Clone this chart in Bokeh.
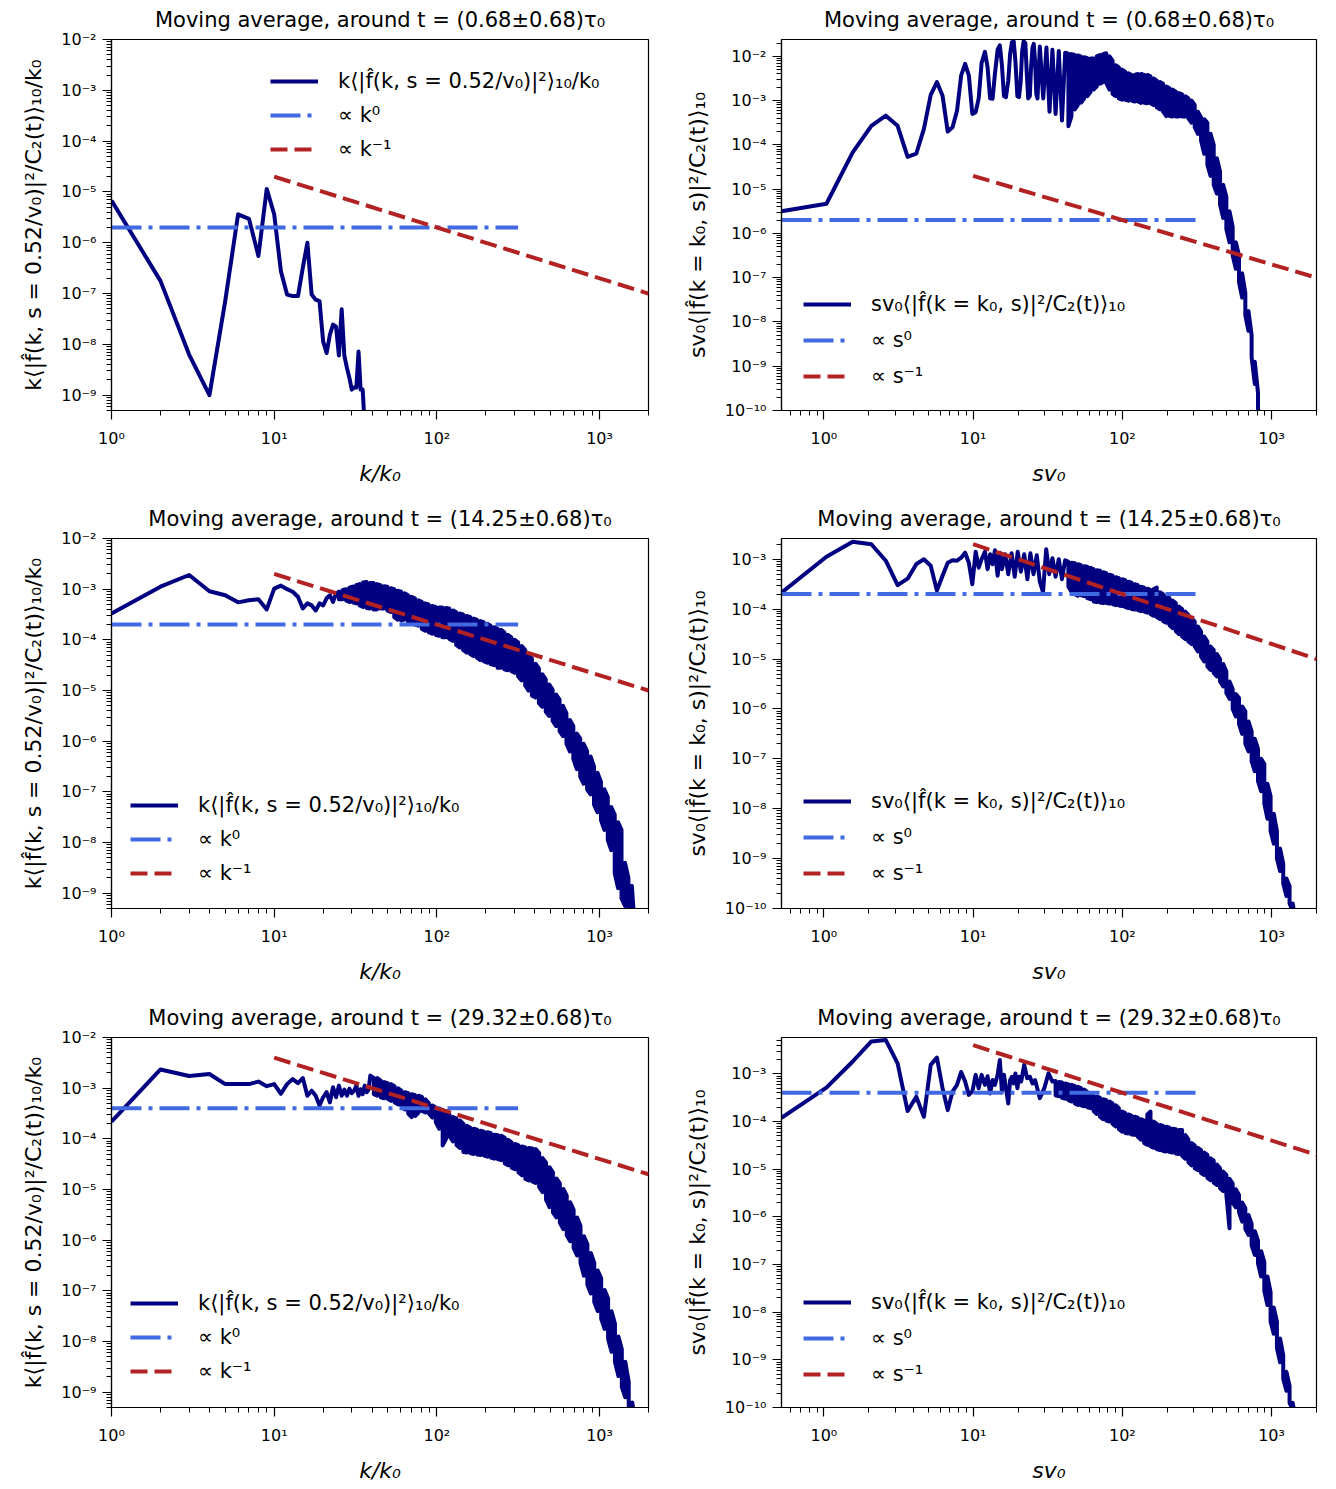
from bokeh.plotting import figure
from bokeh.models import Range1d, FixedTicker, CustomJSTickFormatter, Legend, LegendItem
from bokeh.layouts import gridplot
from bokeh.embed import file_html
from bokeh.resources import INLINE

FONT = "DejaVu Sans"
NAVY = "#000080"
ROYAL = "#4169E1"
FIREBRICK = "#B22222"

# ---------------------------------------------------------------- data
window_centres = ["0.68", "14.25", "29.32"]
window_half = "0.68"
guide_level = [2e-6, 2e-4, 4e-4]          # level of the flat guide per row
flat_guide_x_end = 316.0
slope_guide_x = [10.0, 2000.0]

left_x_range = (1.0, 2000.0)
right_x_range = (0.52, 2000.0)
left_y_ranges = [(5e-10, 1e-2), (5e-10, 1e-2), (5e-10, 1e-2)]
right_y_ranges = [(1e-10, 2.4e-2), (1e-10, 2.6e-3), (1e-10, 5.8e-3)]

# All curve values are log10 of the plotted quantity.
# "*_line" : single-valued stretch of the curve.
# "*_band_*" : where the curve oscillates fast, its local maximum (hi) and
#              minimum (lo) at each abscissa.

# ---- row 1, left : k/k0
k1_line = [1, 2, 3, 4, 5, 6, 7, 8, 9, 10, 11, 12, 13, 14, 15, 16, 17, 18,
           19, 20, 21, 22, 23, 24, 25, 26, 27, 28, 29, 30, 31, 32, 33, 34, 35, 36]
f1_line = [-5.17, -6.75, -8.20, -9.00, -7.15, -5.44, -5.53, -6.26, -4.94, -5.44,
           -6.56, -7.02, -7.05, -7.05, -6.49, -6.00, -7.02, -7.12, -7.15, -7.94,
           -8.17, -7.81, -7.61, -7.65, -8.22, -7.31, -8.22, -8.46, -8.66, -8.89,
           -8.85, -8.85, -8.14, -8.89, -8.89, -9.60]
k1_band = []
f1_band_hi = []
f1_band_lo = []

# ---- row 1, right : s v0
s1_line = [0.52, 1.04, 1.56, 2.08, 2.6, 3.12, 3.64, 4.16, 4.68, 5.2, 5.72, 6.24, 6.76,
           7.28, 7.8, 8.32, 8.84, 9.36, 9.88, 10.4, 10.9, 11.4, 12.0, 12.5, 13.0, 13.5,
           14.0, 14.6, 15.1, 15.6, 16.1, 16.6, 17.2, 17.7, 18.2, 18.7, 19.2, 19.8, 20.3,
           20.8, 21.3, 21.8, 22.4, 22.9, 23.4, 24.0, 24.4, 25.0, 25.5, 26.0, 26.5, 27.0,
           28, 29.5, 31, 32.5, 34, 35.7, 37.5, 39.4, 41.4]
g1_line = [-5.50, -5.33, -4.17, -3.57, -3.34, -3.57, -4.27, -4.20, -3.64, -2.87,
           -2.58, -2.89, -3.70, -3.60, -3.23, -2.43, -2.17, -2.43, -3.30, -3.26,
           -2.95, -2.15, -1.90, -2.25, -2.95, -2.96, -2.40, -1.85, -1.75, -2.20,
           -2.90, -2.92, -2.55, -1.95, -1.68, -1.66, -2.10, -2.90, -2.92, -2.60,
           -1.90, -1.66, -1.70, -2.40, -2.95, -2.90, -2.30, -1.80, -1.72, -2.10,
           -2.85, -2.95,
           -1.78, -2.95, -1.80, -3.25, -1.85, -3.30, -1.88, -3.45, -1.92]
s1_band = [43.5, 45.6, 48, 50.3, 52.8,
           55.5, 58.3, 61.2, 64.2, 67.4, 70.8, 74.3, 78, 82, 86, 90.3, 94.8, 99.6,
           104.6, 109.8, 115.3, 121, 127, 133.4, 140, 147, 154.4, 162, 170, 178.7,
           187.6, 197, 206.9, 217, 228, 239.4, 251.4, 264, 277, 291, 305.5, 320.8,
           336.8, 353.7, 371.4, 390, 409.5, 430, 451.5, 474, 497.7, 522.6, 548.7, 576,
           605, 635, 667, 700, 735, 772, 811, 830]
g1_band_hi = [-1.94, -1.95, -1.97, -1.98, -2.00, -2.02, -2.04, -2.05, -2.05, -2.00,
              -1.97, -1.95, -1.93, -2.00, -2.10, -2.20, -2.25, -2.30, -2.35, -2.38,
              -2.42, -2.42, -2.40, -2.40, -2.42, -2.42, -2.45, -2.50, -2.55, -2.58,
              -2.62, -2.68, -2.72, -2.75, -2.80, -2.83, -2.86, -2.90, -2.95, -3.00,
              -3.10, -3.25, -3.38, -3.42, -3.50, -3.75, -4.00, -4.30, -4.60, -4.90,
              -5.18, -5.50, -5.85, -6.20, -6.50, -6.90, -7.35, -7.75, -8.30, -8.90,
              -9.60, -10.20]
g1_band_lo = [-3.58, -3.35, -3.20, -3.10, -3.05, -2.95, -2.90, -2.80, -2.75, -2.68,
              -2.62, -2.58, -2.60, -2.75, -2.85, -2.90, -2.95, -2.98, -2.98, -3.00,
              -3.00, -3.02, -3.02, -3.05, -3.05, -3.06, -3.06, -3.10, -3.15, -3.20,
              -3.25, -3.35, -3.35, -3.36, -3.36, -3.36, -3.36, -3.36, -3.40, -3.50,
              -3.60, -3.75, -3.90, -4.20, -4.45, -4.70, -4.90, -5.10, -5.35, -5.65,
              -5.90, -6.20, -6.50, -6.80, -7.10, -7.45, -7.85, -8.20, -8.80, -9.40,
              -9.95, -10.20]

# ---- row 2, left
k2_line = [1, 2, 3, 4, 5, 6, 7, 8, 9, 10, 11, 12, 13, 14, 15, 16, 17, 18, 19, 20, 21,
           22, 23, 24]
f2_line = [-3.48, -2.95, -2.72, -3.04, -3.12, -3.26, -3.22, -3.20, -3.40, -2.99,
           -2.93, -3.00, -3.05, -3.15, -3.38, -3.28, -3.32, -3.42, -3.28, -3.32,
           -3.18, -3.12, -3.25, -3.09]
k2_band = [25, 26.3, 27.6, 29, 30.4, 31.9, 33.5, 35.2, 37, 38.8, 40.8, 42.8, 45, 47.2,
           49.6, 52, 54.7, 57.4, 60.3, 63.3, 66.5, 69.8, 73.3, 77, 80.8, 84.8, 89, 93.5,
           98.2, 103, 108, 113.5, 119, 125, 131.5, 138, 145, 152, 160, 168, 176, 185,
           194, 204, 214, 225, 236, 248, 260, 273, 287, 301, 316, 332, 349, 366, 384,
           404, 424, 445, 467, 490, 515, 541, 568, 596, 626, 657, 690, 725, 761, 799,
           839, 881, 925, 971, 1020, 1071, 1124, 1180, 1240, 1300, 1365, 1435, 1505,
           1580, 1640]
f2_band_hi = [-3.05, -3.02, -3.00, -2.97, -2.95, -2.92, -2.90, -2.87, -2.86, -2.88,
              -2.88, -2.90, -2.92, -2.94, -2.95, -2.98, -3.00, -3.03, -3.05, -3.08,
              -3.12, -3.15, -3.18, -3.22, -3.25, -3.28, -3.30, -3.33, -3.35, -3.36,
              -3.36, -3.37, -3.38, -3.42, -3.45, -3.48, -3.50, -3.53, -3.55, -3.58,
              -3.60, -3.63, -3.65, -3.68, -3.72, -3.75, -3.78, -3.80, -3.85, -3.90,
              -3.95, -4.00, -4.05, -4.12, -4.20, -4.28, -4.37, -4.47, -4.57, -4.68,
              -4.78, -4.88, -4.98, -5.08, -5.18, -5.30, -5.45, -5.58, -5.70, -5.85,
              -5.95, -6.05, -6.20, -6.30, -6.50, -6.62, -6.80, -6.95, -7.10, -7.30,
              -7.45, -7.60, -7.75, -8.40, -8.70, -8.85, -9.60]
f2_band_lo = [-3.20, -3.20, -3.22, -3.25, -3.26, -3.28, -3.32, -3.35, -3.37, -3.38,
              -3.40, -3.40, -3.38, -3.38, -3.42, -3.45, -3.55, -3.60, -3.62, -3.60,
              -3.65, -3.66, -3.70, -3.72, -3.78, -3.82, -3.85, -3.88, -3.90, -3.92,
              -3.95, -3.95, -3.98, -4.02, -4.10, -4.15, -4.20, -4.25, -4.28, -4.32,
              -4.35, -4.40, -4.42, -4.45, -4.48, -4.50, -4.55, -4.55, -4.58, -4.60,
              -4.62, -4.65, -4.72, -4.80, -4.90, -5.00, -5.10, -5.14, -5.25, -5.32,
              -5.42, -5.50, -5.60, -5.70, -5.80, -5.90, -6.05, -6.20, -6.35, -6.55,
              -6.70, -6.84, -6.95, -7.05, -7.25, -7.40, -7.55, -7.75, -7.95, -8.15,
              -8.60, -8.90, -9.10, -9.25, -9.30, -9.40, -9.60]

# ---- row 2, right
s2_line = [0.52, 1.04, 1.56, 2.08, 2.6, 3.12, 3.64, 4.16, 4.68, 5.2, 5.72, 6.24, 6.76,
           7.28, 7.8, 8.32, 8.84, 9.36, 9.88, 10.4, 10.9, 11.4, 12.0, 12.5, 13.0, 13.5,
           14.0, 14.6, 15.1, 15.6,
           16.4, 17.2, 18.1, 19, 19.9, 20.9, 22, 23.1, 24.2, 25.4, 26.7, 28, 29.4, 30.9,
           32.4, 34, 35.7, 37.5, 39.4, 41.4]
g2_line = [-3.67, -2.95, -2.65, -2.70, -3.03, -3.52, -3.39, -3.10, -3.00, -3.13,
           -3.63, -3.33, -3.07, -3.02, -3.03, -2.97, -2.87, -3.07, -3.50, -2.85,
           -3.17, -3.00, -2.85, -3.20, -2.90, -3.10, -2.82, -3.33, -2.87, -3.20,
           -2.90, -3.30, -2.88, -3.35, -2.85, -3.25, -2.90, -3.40, -2.88, -3.30,
           -2.92, -3.45, -3.66, -2.80, -3.30, -2.98, -3.35, -3.00, -3.40, -3.02]
s2_band = [43.5, 45.6, 48, 50.3, 52.8, 55.5, 58.3,
           61.2, 64.2, 67.4, 70.8, 74.3, 78, 82, 86, 90.3, 94.8, 99.6, 104.6, 109.8,
           115.3, 121, 127, 133.4, 140, 147, 154.4, 162, 170, 178.7, 187.6, 197, 206.9,
           217, 228, 239.4, 251.4, 264, 277, 291, 305.5, 320.8, 336.8, 353.7, 371.4,
           390, 409.5, 430, 451.5, 474, 497.7, 522.6, 548.7, 576, 605, 635, 667, 700,
           735, 772, 811, 851, 894, 938, 985, 1034, 1086, 1140, 1197, 1257, 1320, 1386,
           1440]
g2_band_hi = [-3.05, -3.07, -3.08, -3.10, -3.12, -3.14, -3.15, -3.17, -3.20, -3.22,
              -3.23, -3.26, -3.28, -3.31, -3.33, -3.36, -3.38, -3.40, -3.42, -3.45,
              -3.47, -3.50, -3.52, -3.55, -3.57, -3.59, -3.62, -3.60, -3.57, -3.66,
              -3.70, -3.73, -3.78, -3.83, -3.88, -3.95, -4.00, -4.05, -4.12, -4.18,
              -4.25, -4.35, -4.45, -4.55, -4.65, -4.75, -4.82, -4.90, -5.00, -5.10,
              -5.25, -5.45, -5.60, -5.70, -5.78, -5.95, -6.05, -6.25, -6.45, -6.60,
              -6.80, -7.00, -7.10, -7.50, -7.75, -8.10, -8.45, -8.80, -9.10, -9.40,
              -9.55, -9.90, -10.20]
g2_band_lo = [-3.55, -3.65, -3.70, -3.73, -3.72, -3.74, -3.78, -3.80, -3.85, -3.86,
              -3.87, -3.88, -3.88, -3.89, -3.90, -3.92, -3.93, -3.94, -3.96, -3.98,
              -4.00, -4.01, -4.02, -4.04, -4.05, -4.07, -4.10, -4.13, -4.16, -4.20,
              -4.24, -4.27, -4.32, -4.38, -4.44, -4.50, -4.55, -4.60, -4.65, -4.70,
              -4.75, -4.85, -4.95, -5.05, -5.15, -5.22, -5.28, -5.35, -5.45, -5.55,
              -5.68, -5.80, -6.00, -6.15, -6.30, -6.50, -6.70, -6.85, -7.05, -7.25,
              -7.45, -7.65, -7.90, -8.20, -8.45, -8.70, -9.00, -9.25, -9.50, -9.75,
              -9.90, -10.05, -10.20]

# ---- row 3, left
k3_line = [1, 2, 3, 4, 5, 6, 7, 8, 9, 10, 11, 12, 13, 14, 15, 16, 17, 18, 19, 20, 21,
           22, 23, 24, 25, 26, 27, 28, 29, 30, 31, 32, 33, 34, 35, 36, 37, 38, 39]
f3_line = [-3.66, -2.63, -2.76, -2.72, -2.92, -2.92, -2.92, -2.87, -2.96, -2.92,
           -3.11, -2.92, -2.82, -2.90, -2.80, -3.15, -3.05, -3.15, -3.34, -3.18,
           -3.08, -3.28, -2.98, -3.18, -2.95, -3.15, -3.03, -3.15, -3.01, -3.10,
           -3.05, -2.95, -3.15, -3.02, -3.12, -2.95, -3.08, -3.03, -2.75]
k3_band = [41, 43, 45.2, 47.4, 49.8, 52.3, 54.9, 57.6, 60.5, 63.5, 66.7, 70, 73.5, 77.2,
           81, 85, 89.3, 93.8, 98.5, 103.4, 108.6, 114, 119.7, 125.7, 132, 138.6, 145.5,
           152.8, 160.4, 168.4, 176.8, 185.7, 195, 204.7, 215, 225.7, 237, 248.8, 261.3,
           274.3, 288, 302.4, 317.5, 333.4, 350, 367.5, 386, 405, 425.5, 446.8, 469,
           492.5, 517, 543, 570, 598.7, 628.6, 660, 693, 727.7, 764, 802, 842, 884, 928,
           975, 1024, 1075, 1129, 1185, 1244, 1306, 1371, 1440, 1512, 1588, 1660]
f3_band_hi = [-2.80, -2.80, -2.85, -2.88, -2.90, -2.92, -2.96, -3.00, -3.05, -3.08,
              -3.10, -3.12, -3.14, -3.15, -3.17, -3.22, -3.30, -3.34, -3.38, -3.41,
              -3.43, -3.45, -3.52, -3.57, -3.60, -3.64, -3.70, -3.74, -3.78, -3.80,
              -3.82, -3.84, -3.86, -3.87, -3.89, -3.92, -3.93, -3.94, -3.98, -4.02,
              -4.07, -4.10, -4.13, -4.15, -4.17, -4.18, -4.19, -4.20, -4.28, -4.38,
              -4.47, -4.56, -4.66, -4.78, -4.88, -4.99, -5.12, -5.25, -5.40, -5.55,
              -5.72, -5.92, -6.08, -6.25, -6.45, -6.60, -6.75, -6.98, -7.15, -7.40,
              -7.65, -7.90, -8.15, -8.40, -8.80, -9.20, -9.60]
f3_band_lo = [-3.12, -3.15, -3.18, -3.20, -3.21, -3.25, -3.28, -3.32, -3.35, -3.42,
              -3.50, -3.57, -3.55, -3.48, -3.45, -3.48, -3.50, -3.58, -3.67, -3.80,
              -4.13, -4.00, -3.95, -4.05, -4.12, -4.18, -4.26, -4.27, -4.28, -4.30,
              -4.31, -4.32, -4.33, -4.35, -4.37, -4.39, -4.40, -4.42, -4.48, -4.52,
              -4.57, -4.60, -4.66, -4.72, -4.79, -4.82, -4.84, -4.87, -4.95, -5.05,
              -5.20, -5.35, -5.45, -5.55, -5.65, -5.78, -5.90, -6.02, -6.15, -6.30,
              -6.45, -6.70, -6.88, -7.05, -7.22, -7.40, -7.55, -7.75, -7.95, -8.20,
              -8.40, -8.68, -8.90, -9.10, -9.30, -9.50, -9.60]

# ---- row 3, right
s3_line = [0.52, 1.04, 1.56, 2.08, 2.6, 3.12, 3.64, 4.16, 4.68, 5.2, 5.72, 6.24, 6.76,
           7.28, 7.8, 8.32, 8.84, 9.36, 9.88, 10.4, 10.9, 11.4, 12.0, 12.5, 13.0, 13.5,
           14.0, 14.6, 15.1, 15.6, 16.1, 16.6, 17.2, 17.7, 18.2, 18.7, 19.2, 19.8, 20.3,
           21.0, 22.0, 23.0, 24.0, 25.0, 26.0, 28.0, 30.0, 32.0, 34.0]
g3_line = [-3.92, -3.29, -2.74, -2.32, -2.29, -2.78, -3.78, -3.48, -3.90, -2.81,
           -2.66, -3.30, -3.76, -3.37, -3.23, -2.96, -3.16, -3.44, -3.37, -3.02,
           -3.30, -3.02, -3.23, -3.05, -3.41, -3.13, -3.23, -3.02, -2.71, -3.37,
           -3.02, -3.30, -3.62, -3.13, -3.06, -3.20, -2.99, -3.30, -3.06, -3.16,
           -2.81, -3.09, -3.06, -3.20, -3.13, -3.51, -3.30, -2.99, -3.16]
s3_band = [35.7, 37.5, 39.4, 41.4, 43.5, 45.6, 48, 50.3, 52.8, 55.5, 58.3, 61.2, 64.2,
           67.4, 70.8, 74.3, 78, 82, 86, 90.3, 94.8, 99.6, 104.6, 109.8, 115.3, 121, 127,
           133.4, 140, 147, 154.4, 162, 170, 178.7, 187.6, 197, 206.9, 217, 228, 239.4,
           251.4, 264, 277, 291, 305.5, 320.8, 336.8, 353.7, 371.4, 390, 409.5, 430,
           451.5, 474, 497.7, 522.6, 548.7, 576, 605, 635, 667, 700, 735, 772, 811, 851,
           894, 938, 985, 1034, 1086, 1140, 1197, 1257, 1320, 1386, 1440]
g3_band_hi = [-3.15, -3.17, -3.18, -3.20, -3.22, -3.23, -3.25, -3.27, -3.30, -3.33,
              -3.38, -3.44, -3.46, -3.48, -3.50, -3.53, -3.55, -3.58, -3.62, -3.66,
              -3.72, -3.79, -3.82, -3.85, -3.88, -3.90, -3.92, -3.95, -3.98, -3.85,
              -3.79, -4.00, -4.05, -4.07, -4.09, -4.11, -4.13, -4.15, -4.16, -4.18,
              -4.18, -4.28, -4.38, -4.45, -4.50, -4.55, -4.60, -4.65, -4.70, -4.77,
              -4.82, -4.90, -4.98, -5.05, -5.12, -5.20, -5.30, -5.42, -5.54, -5.70,
              -5.82, -5.96, -6.15, -6.30, -6.50, -6.72, -6.95, -7.25, -7.58, -7.90,
              -8.20, -8.55, -8.90, -9.25, -9.55, -9.90, -10.20]
g3_band_lo = [-3.45, -3.47, -3.50, -3.52, -3.55, -3.58, -3.62, -3.65, -3.66, -3.68,
              -3.70, -3.72, -3.78, -3.84, -3.90, -3.95, -3.98, -4.00, -4.05, -4.10,
              -4.16, -4.21, -4.24, -4.25, -4.27, -4.28, -4.32, -4.38, -4.45, -4.49,
              -4.52, -4.55, -4.58, -4.60, -4.62, -4.63, -4.64, -4.65, -4.67, -4.68,
              -4.72, -4.78, -4.85, -4.92, -4.98, -5.02, -5.08, -5.12, -5.18, -5.23,
              -5.28, -5.33, -5.40, -5.46, -5.54, -6.24, -5.70, -5.80, -5.90, -6.10,
              -6.25, -6.38, -6.60, -6.80, -6.98, -7.25, -7.55, -7.85, -8.20, -8.45,
              -8.75, -9.05, -9.40, -9.65, -9.90, -10.05, -10.20]

left_series = [(k1_line, f1_line, k1_band, f1_band_hi, f1_band_lo),
               (k2_line, f2_line, k2_band, f2_band_hi, f2_band_lo),
               (k3_line, f3_line, k3_band, f3_band_hi, f3_band_lo)]
right_series = [(s1_line, g1_line, s1_band, g1_band_hi, g1_band_lo),
                (s2_line, g2_line, s2_band, g2_band_hi, g2_band_lo),
                (s3_line, g3_line, s3_band, g3_band_hi, g3_band_lo)]

# ---------------------------------------------------------------- text
TITLE = "Moving average, around t = ({}\u00b1{})\u03c4\u2080"
LEFT_YLABEL = "k\u27e8|f\u0302(k, s = 0.52/v\u2080)|\u00b2/C\u2082(t)\u27e9\u2081\u2080/k\u2080"
RIGHT_YLABEL = "sv\u2080\u27e8|f\u0302(k = k\u2080, s)|\u00b2/C\u2082(t)\u27e9\u2081\u2080"
LEFT_XLABEL = "k/k\u2080"
RIGHT_XLABEL = "sv\u2080"
LEFT_LEG = ["k\u27e8|f\u0302(k, s = 0.52/v\u2080)|\u00b2\u27e9\u2081\u2080/k\u2080",
            "\u221d k\u2070", "\u221d k\u207b\u00b9"]
RIGHT_LEG = ["sv\u2080\u27e8|f\u0302(k = k\u2080, s)|\u00b2/C\u2082(t)\u27e9\u2081\u2080",
             "\u221d s\u2070", "\u221d s\u207b\u00b9"]

FMT = """
const sup = {"-": "\\u207b", "0": "\\u2070", "1": "\\u00b9", "2": "\\u00b2",
             "3": "\\u00b3", "4": "\\u2074", "5": "\\u2075", "6": "\\u2076",
             "7": "\\u2077", "8": "\\u2078", "9": "\\u2079"};
const e = Math.round(Math.log10(tick));
return "10" + String(e).split("").map(c => sup[c]).join("");
"""

major_x = [1, 10, 100, 1000]
minor_x = [m * 10.0 ** e for e in range(-1, 4) for m in range(2, 10)]
major_y = [10.0 ** e for e in range(-10, -1)]
minor_y = [m * 10.0 ** e for e in range(-11, -1) for m in range(2, 10)]

# per row: (border_top, frame_height, border_bottom)
row_geom = [(39, 371, 87), (41, 370, 87), (42, 370, 82)]
# legend anchor (x, y) from frame bottom-left, per row and side
legend_loc_left = [(151, 241), (11, 15), (11, 16)]
legend_loc_right = [(14, 14), (14, 15), (14, 13)]


def style_axes(p, xlabel, ylabel):
    p.xgrid.grid_line_color = None
    p.ygrid.grid_line_color = None
    p.outline_line_color = "black"
    p.outline_line_width = 1.2
    p.background_fill_color = "white"
    p.border_fill_color = "white"
    p.xaxis.ticker = FixedTicker(ticks=major_x, minor_ticks=minor_x)
    p.yaxis.ticker = FixedTicker(ticks=major_y, minor_ticks=minor_y)
    for ax in (p.xaxis[0], p.yaxis[0]):
        ax.formatter = CustomJSTickFormatter(code=FMT)
        ax.axis_line_color = "black"
        ax.axis_line_width = 1.2
        ax.major_tick_line_color = "black"
        ax.minor_tick_line_color = "black"
        ax.major_tick_line_width = 1.2
        ax.major_tick_in = 0
        ax.major_tick_out = 9
        ax.minor_tick_in = 0
        ax.minor_tick_out = 5
        ax.major_label_text_font = FONT
        ax.major_label_text_font_size = "16px"
        ax.major_label_text_color = "black"
        ax.axis_label_text_font = FONT
        ax.axis_label_text_font_size = "22px"
        ax.axis_label_text_color = "black"
    p.xaxis.major_label_standoff = 9
    p.yaxis.major_label_standoff = 6
    p.xaxis.axis_label = xlabel
    p.xaxis.axis_label_text_font_style = "italic"
    p.xaxis.axis_label_standoff = 10
    p.yaxis.axis_label = ylabel
    p.yaxis.axis_label_text_font_style = "normal"
    p.yaxis.axis_label_standoff = 12


def build(row, side):
    top, fh, bottom = row_geom[row]
    if side == "left":
        x_line, f_line, x_band, f_hi, f_lo = left_series[row]
        xr = left_x_range
        yr = left_y_ranges[row]
        bl, br = 111, 20
        labels = LEFT_LEG
        loc = legend_loc_left[row]
        xlabel, ylabel = LEFT_XLABEL, LEFT_YLABEL
    else:
        x_line, f_line, x_band, f_hi, f_lo = right_series[row]
        xr = right_x_range
        yr = right_y_ranges[row]
        bl, br = 113, 20
        labels = RIGHT_LEG
        loc = legend_loc_right[row]
        xlabel, ylabel = RIGHT_XLABEL, RIGHT_YLABEL

    p = figure(width=668, height=top + fh + bottom,
               x_axis_type="log", y_axis_type="log",
               x_range=Range1d(*xr), y_range=Range1d(*yr),
               output_backend="svg", toolbar_location=None,
               min_border_left=bl, min_border_right=br,
               min_border_top=top, min_border_bottom=bottom)
    p.title.text = TITLE.format(window_centres[row], window_half)
    p.title.text_font = FONT
    p.title.text_font_size = "21px"
    p.title.text_font_style = "normal"
    p.title.align = "center"
    p.title.vertical_align = "top"
    p.title.text_color = "black"
    p.title.standoff = 12
    style_axes(p, xlabel, ylabel)

    xs, ys = [], []
    for a, b in zip(x_line, f_line):
        xs.append(a)
        ys.append(10.0 ** b)
    # fast oscillation: the curve swings between its local max and min;
    # visit both at each abscissa, alternating the order.
    for i, (a, h, l) in enumerate(zip(x_band, f_hi, f_lo)):
        pair = (h, l) if i % 2 == 0 else (l, h)
        xs.extend([a, a])
        ys.extend([10.0 ** pair[0], 10.0 ** pair[1]])

    amp = guide_level[row]
    r_main = p.line(xs, ys, line_color=NAVY, line_width=4, line_join="round")
    r_flat = p.line([xr[0], flat_guide_x_end], [amp, amp], line_color=ROYAL,
                    line_width=4, line_dash="30 7 4 7")
    r_slope = p.line(slope_guide_x, [amp * 100.0 / x for x in slope_guide_x],
                     line_color=FIREBRICK, line_width=4, line_dash="17 7")

    legend = Legend(items=[LegendItem(label=labels[0], renderers=[r_main]),
                           LegendItem(label=labels[1], renderers=[r_flat]),
                           LegendItem(label=labels[2], renderers=[r_slope])],
                    location=loc, orientation="vertical",
                    label_text_font=FONT, label_text_font_size="21px",
                    label_text_color="black",
                    glyph_width=48, glyph_height=20, label_height=20,
                    label_standoff=20, spacing=10 if side == "left" else 12,
                    padding=8, margin=0,
                    background_fill_alpha=0.0, border_line_alpha=0.0)
    p.add_layout(legend)
    return p


grid = gridplot([[build(r, "left"), build(r, "right")] for r in range(3)],
                toolbar_location=None)

with open("out.html", "w") as fh:
    fh.write(file_html(grid, INLINE))
